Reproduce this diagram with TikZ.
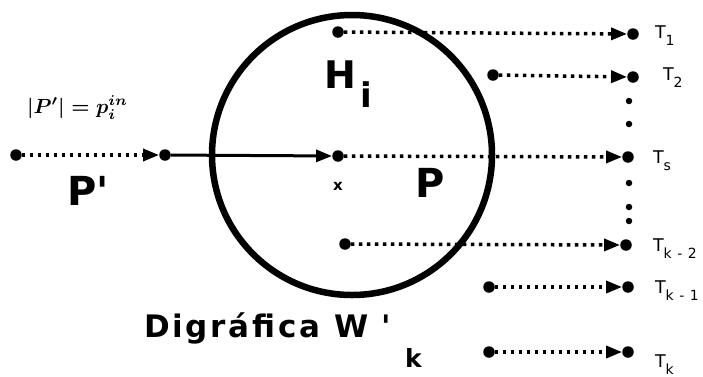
\documentclass[tikz,border=0pt]{standalone}
\usepackage{fontspec}
\setmainfont{DejaVu Sans}
\newfontfamily\digfontx[LetterSpace=9]{DejaVu Sans}
\usetikzlibrary{arrows.meta}
\newcommand\tsubx{}
\renewcommand\tsubx[1]{\raisebox{-7pt}{\fontsize{14}{14}\selectfont #1}}
\newsavebox\mlboxx
\newsavebox\hboxx
\newsavebox\ppboxx
\tikzset{
  dot/.style={circle,fill=black,inner sep=0pt,minimum size=11.5pt},
  sdot/.style={circle,fill=black,inner sep=0pt,minimum size=6.5pt},
  tip/.style={-{Triangle[length=16pt,width=12pt]}},
  dotline/.style={tip,line width=3.5pt,dash pattern=on 3.5pt off 4.5pt},
  solidline/.style={tip,line width=3pt},
  lbl/.style={anchor=base west,inner sep=0pt,outer sep=0pt},
  tlbl/.style={lbl,font=\fontsize{17.5}{19}\selectfont},
  bigp/.style={lbl,font=\fontsize{40}{42}\selectfont\bfseries},
  xlbl/.style={lbl,font=\fontsize{15}{16}\selectfont\bfseries},
  dlbl/.style={lbl,font=\fontsize{31}{33}\selectfont\bfseries},
  klbl/.style={lbl,font=\fontsize{25}{25}\selectfont\bfseries}
}
\begin{document}
\sbox\mlboxx{\resizebox{101pt}{!}{\boldmath$\vert P^{\prime}\vert = p_i^{in}$}}%
\sbox\hboxx{\fontsize{38}{40}\selectfont\bfseries H\hspace{5pt}\raisebox{-19pt}{\fontsize{34}{34}\selectfont i}}%
\sbox\ppboxx{\fontsize{40}{42}\selectfont\bfseries P\textquotesingle}%
\begin{tikzpicture}[x=1pt,y=-1pt]
\useasboundingbox (0,0) rectangle (703,376);
% circle
\node[circle,draw,line width=6.5pt,minimum size=280pt,inner sep=0pt] (Hc) at (352,155) {};
% dots
\node[dot] (a0) at (16,155) {};
\node[dot] (a1) at (165,155) {};
\node[dot] (c) at (338,156) {};
\node[dot] (t1s) at (338,32) {};
\node[dot] (t1) at (633,34) {};
\node[dot] (t2s) at (493,75) {};
\node[dot] (t2) at (633,77) {};
\node[dot] (ts) at (628,157) {};
\node[dot] (tk2s) at (345,244) {};
\node[dot] (tk2) at (626,245) {};
\node[dot] (tk1s) at (489,287) {};
\node[dot] (tk1) at (628,287) {};
\node[dot] (tks) at (489,352) {};
\node[dot] (tk) at (628,352) {};
\node[sdot] (v1) at (629,101) {};
\node[sdot] (v2) at (629,124) {};
\node[sdot] (v3) at (629,183) {};
\node[sdot] (v4) at (629,207) {};
\node[sdot] (v5) at (629,221) {};
% connectors
\draw[dotline] (a0) -- (a1);
\draw[solidline] (a1) -- (c);
\draw[dotline] (c) -- (ts);
\draw[dotline] (t1s) -- (t1);
\draw[dotline] (t2s) -- (t2);
\draw[dotline] (tk2s) -- (tk2);
\draw[dotline] (tk1s) -- (tk1);
\draw[dotline] (tks) -- (tk);
% labels
\node[lbl] (ml) at (27,113) {\usebox\mlboxx};
\node[lbl] (Hl) at (324,88) {\usebox\hboxx};
\node[bigp] (Pl) at (415,197) {P};
\node[lbl] (Ppl) at (67,205) {\usebox\ppboxx};
\node[xlbl] (xl) at (333,190) {x};
\node[dlbl] (dl) at (144,337) {\digfontx Digráfica W};
\node[dlbl] (dlp) at (381,337) {\textquotesingle};
\node[klbl] (dlk) at (405,367) {k};
\node[tlbl] (T1) at (655,38) {T\tsubx{1}};
\node[tlbl] (T2) at (663,80) {T\tsubx{2}};
\node[tlbl] (Ts) at (653,163) {T\tsubx{s}};
\node[tlbl] (Tk2) at (653,251) {T\tsubx{k\hspace{1pt} - \hspace{1pt}2}};
\node[tlbl] (Tk1) at (655,293) {T\tsubx{k\hspace{1pt} - \hspace{1pt}1}};
\node[tlbl] (Tk) at (655,367) {T\tsubx{k}};
\end{tikzpicture}
\end{document}
